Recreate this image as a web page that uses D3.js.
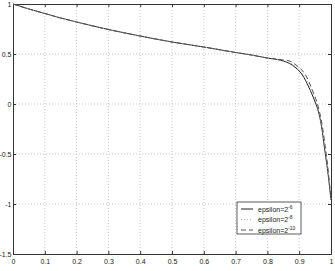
<!DOCTYPE html>
<html>
<head>
<meta charset="utf-8">
<script src="https://cdn.jsdelivr.net/npm/d3@7"></script>
<style>
  body { margin: 0; background: #fff; }
  text { font-family: "Liberation Sans", Arial, sans-serif; }
</style>
</head>
<body>
<div id="chart"></div>
<script>
// data
const xs6  = [0, 0.05, 0.1, 0.15, 0.2, 0.3, 0.4, 0.5, 0.6, 0.7, 0.75, 0.8, 0.83, 0.85, 0.87, 0.89, 0.91, 0.93, 0.95, 0.96, 0.97, 0.98, 0.99, 1.0];
const eps6 = [1, 0.95, 0.905, 0.86, 0.82, 0.745, 0.68, 0.62, 0.57, 0.515, 0.49, 0.46, 0.445, 0.43, 0.405, 0.36, 0.29, 0.17, 0.02, -0.07, -0.22, -0.45, -0.68, -0.96];
const xs8  = [0, 0.05, 0.1, 0.15, 0.2, 0.3, 0.4, 0.5, 0.6, 0.7, 0.75, 0.8, 0.83, 0.85, 0.87, 0.89, 0.91, 0.93, 0.95, 0.96, 0.97, 0.98, 0.99, 1.0];
const eps8 = [1, 0.95, 0.905, 0.86, 0.82, 0.745, 0.68, 0.62, 0.57, 0.515, 0.49, 0.46, 0.448, 0.435, 0.415, 0.375, 0.31, 0.2, 0.05, -0.05, -0.2, -0.42, -0.66, -0.955];
const xs10  = [0, 0.05, 0.1, 0.15, 0.2, 0.3, 0.4, 0.5, 0.6, 0.7, 0.75, 0.8, 0.83, 0.85, 0.87, 0.89, 0.9, 0.92, 0.94, 0.96, 0.97, 0.98, 0.99, 1.0];
const eps10 = [1, 0.95, 0.905, 0.86, 0.82, 0.745, 0.68, 0.62, 0.57, 0.515, 0.49, 0.46, 0.45, 0.44, 0.43, 0.39, 0.365, 0.29, 0.15, -0.03, -0.17, -0.38, -0.63, -0.95];
const xTicks = [0, 0.1, 0.2, 0.3, 0.4, 0.5, 0.6, 0.7, 0.8, 0.9, 1];
const yTicks = [-1.5, -1, -0.5, 0, 0.5, 1];
const legendLabels = ["-6", "-8", "-10"];

const width = 335, height = 271;
const x = d3.scaleLinear().domain([0, 1]).range([13, 331]);
const y = d3.scaleLinear().domain([-1.5, 1]).range([254, 4]);

const svg = d3.select('#chart').append('svg')
    .attr('width', width)
    .attr('height', height);

// grid
svg.append('g').selectAll('line')
    .data(xTicks.slice(1, -1))
    .enter().append('line')
    .attr('x1', d => x(d)).attr('x2', d => x(d))
    .attr('y1', 4).attr('y2', 254)
    .attr('stroke', '#bbb').attr('stroke-width', 0.8)
    .attr('stroke-dasharray', '1,2');
svg.append('g').selectAll('line')
    .data(yTicks.slice(1, -1))
    .enter().append('line')
    .attr('y1', d => y(d)).attr('y2', d => y(d))
    .attr('x1', 13).attr('x2', 331)
    .attr('stroke', '#bbb').attr('stroke-width', 0.8)
    .attr('stroke-dasharray', '1,2');

// axes
const plain = d => String(d);
const xAxis = svg.append('g')
    .attr('transform', 'translate(0,254)')
    .call(d3.axisBottom(x).tickValues(xTicks).tickSize(-3).tickPadding(6).tickFormat(plain));
const xTop = svg.append('g')
    .attr('transform', 'translate(0,4)')
    .call(d3.axisTop(x).tickValues(xTicks).tickSize(-3).tickFormat(''));
const yAxis = svg.append('g')
    .attr('transform', 'translate(13,0)')
    .call(d3.axisLeft(y).tickValues(yTicks).tickSize(-3).tickPadding(3).tickFormat(plain));
const yRight = svg.append('g')
    .attr('transform', 'translate(331,0)')
    .call(d3.axisRight(y).tickValues(yTicks).tickSize(-3).tickFormat(''));

svg.selectAll('.domain').attr('stroke', '#333');
svg.selectAll('.tick line').attr('stroke', '#333');
svg.selectAll('.tick text')
    .attr('font-size', '7px')
    .attr('fill', '#222')
    .style('font-family', '"Liberation Sans", Arial, sans-serif');
xAxis.selectAll('.tick text').attr('dy', '0.5em');
yAxis.selectAll('.tick text').attr('x', -1.5);

// curves
const line = d3.line().x(d => x(d[0])).y(d => y(d[1])).curve(d3.curveMonotoneX);
const series = [
  {xs: xs6, ys: eps6, color: '#222', dash: null, w: 1},
  {xs: xs8, ys: eps8, color: '#bbb', dash: '1,2', w: 1},
  {xs: xs10, ys: eps10, color: '#555', dash: '5,3', w: 1}
];
series.forEach(s => {
  svg.append('path')
    .datum(s.xs.map((v, i) => [v, s.ys[i]]))
    .attr('d', line)
    .attr('fill', 'none')
    .attr('stroke', s.color)
    .attr('stroke-width', s.w)
    .attr('stroke-dasharray', s.dash);
});

// legend
const lg = svg.append('g').attr('transform', 'translate(237,202)');
lg.append('rect')
    .attr('width', 64).attr('height', 32)
    .attr('fill', '#fff').attr('stroke', '#333').attr('stroke-width', 0.8);
legendLabels.forEach((lab, i) => {
  const s = series[i];
  const yy = 7 + i * 10.5;
  lg.append('line')
    .attr('x1', 4).attr('x2', 16)
    .attr('y1', yy).attr('y2', yy)
    .attr('stroke', s.color).attr('stroke-width', s.w)
    .attr('stroke-dasharray', s.dash);
  const t = lg.append('text')
    .attr('x', 21).attr('y', yy + 2.5)
    .attr('font-size', '7px').attr('fill', '#222');
  t.append('tspan').text('epsilon=2');
  t.append('tspan').attr('dy', -3).attr('font-size', '5px').text(lab);
});
</script>
</body>
</html>
